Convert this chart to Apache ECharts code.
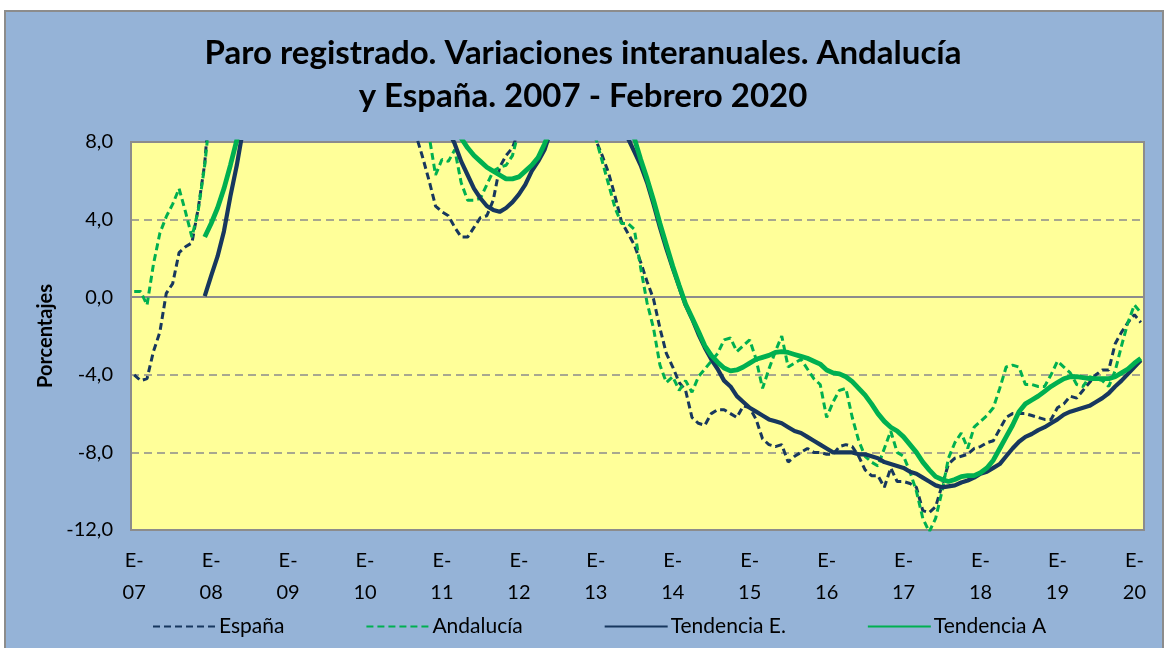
<!DOCTYPE html>
<html>
<head>
<meta charset="utf-8">
<script src="https://cdn.jsdelivr.net/npm/echarts@6/dist/echarts.min.js"></script>
<style>
  html, body { margin: 0; padding: 0; background: #ffffff; }
  #frame { position: absolute; left: 4px; top: 10px; width: 1156px; height: 640px; background: #95B3D7; border: 2px solid #8C8C8C; border-bottom: none; }
  #chart { position: absolute; left: 0; top: 0; width: 1166px; height: 648px; }
</style>
</head>
<body>
<div id="frame"></div>
<div id="chart"></div>
<script>
// Month labels (Jan 2007 .. Feb 2020)
const monthNames = ['ene','feb','mar','abr','may','jun','jul','ago','sep','oct','nov','dic'];
const years = ['07','08','09','10','11','12','13','14','15','16','17','18','19','20'];
const lastYearMonths = 2;
const categories = [];
years.forEach((y, yi) => {
  const n = (yi === years.length - 1) ? lastYearMonths : 12;
  for (let m = 0; m < n; m++) categories.push(monthNames[m] + '-' + y);
});

const yTicks = [-12, -8, -4, 0, 4, 8];

// España: variación interanual (%)
const espana = [
  -4.0, -4.3, -4.2, -2.8, -1.8, 0.2, 0.7, 2.3, 2.6, 2.8, 4.6, 6.9,
  11, 13, 17, 21, 25, 28, 31, 35, 39, 44, 48, 47,
  46, 48, 50, 48, 47, 45, 44, 41, 37, 31, 25, 22,
  19, 17, 14, 12, 11, 10.5, 10, 9.5, 8.3, 7.2, 6.0, 4.7,
  4.4, 4.2, 3.6, 3.1, 3.1, 3.6, 4.1, 4.2, 5.0, 6.7, 7.3, 7.7,
  8.6, 9.2, 10, 10.5, 11, 11.5, 12, 12, 11.5, 11, 10, 9,
  8.1, 7.3, 6.4, 5.2, 3.9, 3.3, 2.7, 1.8, 0.8, -0.1, -1.6, -2.9,
  -3.6, -4.4, -4.8, -6.2, -6.5, -6.6, -6.0, -5.8, -5.8, -6.0, -6.2, -5.6,
  -5.7, -6.3, -7.3, -7.6, -7.7, -7.6, -8.5, -8.2, -8.0, -7.8, -8.0, -8.0,
  -8.1, -8.1, -7.7, -7.6, -7.7, -8.2, -8.9, -9.2, -9.2, -9.8, -8.8, -9.5,
  -9.5, -9.6, -9.8, -11.0, -11.1, -10.8, -9.7, -8.6, -8.3, -8.2, -8.1, -7.8,
  -7.7, -7.5, -7.4, -6.8, -6.2, -6.0, -6.0, -6.0, -6.1, -6.2, -6.3, -6.3,
  -5.7, -5.5, -5.1, -5.2, -4.8, -4.4, -4.0, -3.75, -3.75, -2.4, -1.8, -1.3,
  -0.9, -1.3
];

// Andalucía: variación interanual (%)
const andalucia = [
  0.3, 0.3, -0.4, 1.7, 3.3, 4.15, 4.8, 5.6, 4.4, 3.1, 4.5, 6.8,
  10, 12, 16, 20, 24, 27, 30, 33, 37, 42, 45, 44,
  43, 45, 46, 45, 44, 42, 41, 38, 34, 29, 24, 21,
  18, 16, 14, 12.5, 11.5, 11, 10.5, 10, 9.8, 9.5, 8.3, 6.3,
  7.1, 7.0, 7.6, 5.9, 5.0, 5.0, 5.1, 5.8, 6.5, 6.7, 6.8, 7.3,
  8.6, 9.3, 10, 10.5, 11, 11.3, 11.5, 11.5, 11, 10.5, 10, 9.2,
  8.2, 7.0, 5.8, 4.6, 3.8, 3.8, 3.5, 1.5, -0.3, -1.6, -3.5, -4.4,
  -4.1, -4.8, -4.3, -4.9, -4.1, -3.7, -3.3, -2.9, -2.2, -2.1, -2.8, -2.5,
  -2.2, -3.2, -4.7, -3.7, -2.8, -2.0, -3.6, -3.4, -3.2, -3.7, -4.2, -4.5,
  -6.2, -5.4, -4.8, -4.7, -6.2, -7.4, -8.2, -8.5, -8.7, -7.8, -6.9, -8.0,
  -8.2, -9.0, -10.0, -11.4, -12.1, -11.4, -10.0, -8.3, -7.5, -7.0, -7.8, -6.7,
  -6.4, -6.1, -5.7, -4.7, -3.6, -3.5, -3.6, -4.5, -4.5, -4.6, -4.6, -4.0,
  -3.3, -3.6, -3.9, -4.5, -4.6, -4.1, -4.2, -4.3, -4.6, -3.8, -2.5, -1.3,
  -0.4, -0.8
];

// Tendencia España
const tendenciaE = [
  null, null, null, null, null, null, null, null, null, null, null, 0.05,
  1.1, 2.1, 3.4, 5.2, 6.8, 8.7, 11, 14, 18, 22, 27, 32,
  37, 41, 44, 46, 46, 45, 43, 40, 36, 32, 28, 24,
  21, 18, 16, 14, 13, 12, 11.5, 11, 10.5, 10, 9.7, 9.4,
  9.0, 8.6, 7.9, 7.0, 6.3, 5.6, 5.1, 4.7, 4.5, 4.4, 4.6, 4.9,
  5.3, 5.8, 6.5, 7.0, 7.6, 8.6, 9.5, 10.3, 11, 11.5, 11.7, 11.7,
  11.5, 11, 10.3, 9.6, 9.0, 8.2, 7.5, 6.8, 5.9, 4.8, 3.6, 2.5,
  1.5, 0.55, -0.4, -1.1, -1.9, -2.6, -3.2, -3.7, -4.3, -4.6, -5.1, -5.4,
  -5.7, -5.9, -6.1, -6.3, -6.4, -6.5, -6.7, -6.9, -7.0, -7.2, -7.4, -7.6,
  -7.8, -8.0, -8.0, -8.0, -8.0, -8.1, -8.1, -8.2, -8.3, -8.5, -8.6, -8.7,
  -8.8, -9.0, -9.1, -9.3, -9.5, -9.7, -9.8, -9.75, -9.7, -9.55, -9.45, -9.3,
  -9.1, -9.0, -8.8, -8.6, -8.2, -7.8, -7.45, -7.2, -7.05, -6.85, -6.7, -6.5,
  -6.3, -6.05, -5.9, -5.8, -5.7, -5.6, -5.4, -5.2, -4.95, -4.6, -4.3, -3.95,
  -3.6, -3.25
];

// Tendencia Andalucía
const tendenciaA = [
  null, null, null, null, null, null, null, null, null, null, null, 3.1,
  3.8, 4.6, 5.6, 6.8, 8.1, 9.4, 12, 15, 19, 23, 27, 31,
  35, 39, 41, 42, 42, 41, 39, 36, 33, 29, 25, 22,
  19, 17, 15, 13.5, 12.5, 11.8, 11.2, 10.8, 10.5, 10.2, 10.0, 9.8,
  9.6, 9.2, 8.8, 8.2, 7.7, 7.3, 7.0, 6.7, 6.5, 6.3, 6.1, 6.1,
  6.2, 6.5, 6.8, 7.2, 7.9, 8.7, 9.5, 10.3, 11, 11.5, 11.8, 11.8,
  11.6, 11.2, 10.7, 10.1, 9.5, 8.9, 8.2, 7.1, 6.1, 5.0, 3.8, 2.7,
  1.6, 0.6, -0.35, -1.05, -1.75, -2.5, -3.0, -3.35, -3.65, -3.8, -3.75, -3.6,
  -3.4, -3.2, -3.1, -3.0, -2.85, -2.8, -2.85, -2.95, -3.05, -3.15, -3.3, -3.45,
  -3.75, -3.9, -3.95, -4.1, -4.35, -4.7, -5.05, -5.5, -6.0, -6.4, -6.7, -6.9,
  -7.2, -7.6, -8.0, -8.5, -8.9, -9.25, -9.4, -9.5, -9.4, -9.25, -9.2, -9.2,
  -9.05, -8.8, -8.4, -7.8, -7.2, -6.6, -5.9, -5.5, -5.3, -5.1, -4.85, -4.6,
  -4.4, -4.2, -4.1, -4.1, -4.15, -4.2, -4.2, -4.2, -4.2, -4.1, -3.9, -3.7,
  -3.4, -3.15
];

const NAVY = '#17375E';
const GREEN = '#00B050';
const FONT = 'Lato, "Open Sans", sans-serif';

const chart = echarts.init(document.getElementById('chart'), null, { renderer: 'canvas' });

chart.setOption({
  backgroundColor: 'transparent',
  animation: false,
  textStyle: { fontFamily: FONT },
  title: {
    text: 'Paro registrado. Variaciones interanuales. Andalucía\ny España. 2007 - Febrero 2020',
    left: 'center',
    top: 27,
    textStyle: { fontFamily: FONT, fontSize: 33, fontWeight: 'bold', color: '#000', lineHeight: 43 }
  },
  legend: {
    top: 611,
    left: 147,
    itemWidth: 63,
    itemHeight: 12,
    itemGap: 81,
    itemStyle: { opacity: 0 },
    textStyle: { fontFamily: FONT, fontSize: 21, color: '#000', padding: [0, 0, 0, -2] },
    data: ['España', 'Andalucía', 'Tendencia E.', 'Tendencia A']
  },
  grid: {
    left: 131, right: 22, top: 142, bottom: 118,
    show: true, backgroundColor: '#FFFF99', borderColor: '#8C8C8C', borderWidth: 2,
    containLabel: false
  },
  xAxis: {
    type: 'category',
    data: categories,
    boundaryGap: true,
    axisLine: { show: false },
    axisTick: { show: false },
    splitLine: { show: false },
    axisLabel: {
      interval: (idx) => idx % 12 === 0,
      formatter: (v) => 'E-\n' + v.slice(-2),
      fontSize: 20, lineHeight: 32, color: '#000', margin: 15, fontFamily: FONT
    }
  },
  yAxis: {
    type: 'value',
    min: yTicks[0], max: yTicks[yTicks.length - 1], interval: 4,
    name: 'Porcentajes',
    nameLocation: 'middle',
    nameGap: 73,
    nameRotate: 90,
    nameTextStyle: { fontFamily: FONT, fontSize: 20, fontWeight: 'bold', color: '#000' },
    axisLine: { show: false },
    axisTick: { show: false },
    axisLabel: {
      formatter: (v) => v.toFixed(1).replace('.', ','),
      fontSize: 20, color: '#000', margin: 18, fontFamily: FONT
    },
    splitLine: { show: true, lineStyle: { color: '#8C8C8C', width: 1.5, type: [8, 5] } }
  },
  series: [
    {
      name: 'España', type: 'line', data: espana, symbol: 'none', clip: true,
      lineStyle: { color: NAVY, width: 3, type: [7, 4] }, itemStyle: { color: NAVY },
      markLine: {
        silent: true, symbol: 'none', z: 1, label: { show: false },
        lineStyle: { color: '#8C8C8C', width: 2, type: 'solid' },
        data: [{ yAxis: 0 }]
      }
    },
    {
      name: 'Andalucía', type: 'line', data: andalucia, symbol: 'none', clip: true,
      lineStyle: { color: GREEN, width: 3, type: [7, 4] }, itemStyle: { color: GREEN }
    },
    {
      name: 'Tendencia E.', type: 'line', data: tendenciaE, symbol: 'none', clip: true,
      lineStyle: { color: NAVY, width: 4.2 }, itemStyle: { color: NAVY }
    },
    {
      name: 'Tendencia A', type: 'line', data: tendenciaA, symbol: 'none', clip: true,
      lineStyle: { color: GREEN, width: 4.8 }, itemStyle: { color: GREEN }
    }
  ]
});
</script>
</body>
</html>
